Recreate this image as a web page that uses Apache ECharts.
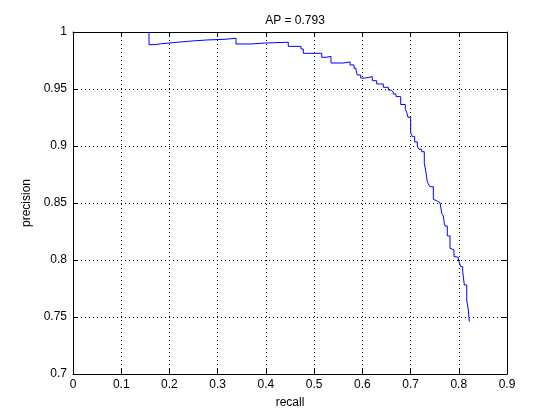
<!DOCTYPE html>
<html>
<head>
<meta charset="utf-8">
<script src="https://cdn.jsdelivr.net/npm/echarts@6/dist/echarts.min.js"></script>
<style>
html,body{margin:0;padding:0;background:#fff;}
#chart{width:560px;height:420px;}
</style>
</head>
<body>
<div id="chart"></div>
<script>
const titleText = "AP = 0.793";
const xName = "recall";
const yName = "precision";
const recall = [0.1576,0.1576,0.1701,0.1839,0.2012,0.2219,0.2462,0.2773,0.3152,0.3380,0.3691,0.4017,0.4465,0.4728,0.4776,0.5158,0.5247,0.5350,0.5606,0.5745,0.5827,0.5869,0.5896,0.5966,0.6056,0.6207,0.6298,0.6435,0.6539,0.6589,0.6642,0.6698,0.6796,0.6891,0.6920,0.6947,0.7003,0.7037,0.7086,0.7140,0.7175,0.7231,0.7285,0.7321,0.7348,0.7368,0.7404,0.7472,0.7507,0.7543,0.7611,0.7646,0.7680,0.7698,0.7715,0.7762,0.7818,0.7854,0.7901,0.7943,0.7991,0.8011,0.8040,0.8082,0.8115,0.8165,0.8198,0.8219];
const precision = [1.0,0.9889,0.9898,0.9904,0.9912,0.9921,0.9930,0.9936,0.9945,0.9895,0.9904,0.9910,0.9874,0.9851,0.9813,0.9778,0.9786,0.9728,0.9737,0.9711,0.9682,0.9661,0.9623,0.9596,0.9608,0.9573,0.9544,0.9515,0.9491,0.9474,0.9456,0.9433,0.9364,0.9322,0.9295,0.9252,0.9117,0.9082,0.9036,0.8998,0.8972,0.8950,0.8848,0.8766,0.8687,0.8667,0.8643,0.8532,0.8520,0.8503,0.8491,0.8410,0.8386,0.8327,0.8298,0.8211,0.8103,0.8088,0.8029,0.8023,0.8000,0.7980,0.7941,0.7897,0.7781,0.7649,0.7561,0.7459];

const data = recall.map((r, i) => [r, precision[i]]);
const font = "'Liberation Sans', Arial, Helvetica, sans-serif";
const dotted = {show: true, lineStyle: {color: '#000', width: 1, type: [1, 3]}};

const chart = echarts.init(document.getElementById('chart'), null, {renderer: 'canvas'});
chart.setOption({
  backgroundColor: '#fff',
  animation: false,
  title: {
    text: titleText, left: 290, top: 10, textAlign: 'center',
    textStyle: {fontFamily: font, fontSize: 12, fontWeight: 'normal', color: '#000'}
  },
  grid: {left: 73, top: 32, right: 53, bottom: 46, containLabel: false},
  xAxis: [{
    type: 'value', min: 0, max: 0.9, interval: 0.1, position: 'bottom',
    name: xName, nameLocation: 'middle', nameGap: 23,
    nameTextStyle: {fontFamily: font, fontSize: 12, color: '#000'},
    axisLine: {show: true, onZero: false, lineStyle: {color: '#000', width: 1}},
    axisTick: {show: true, inside: true, length: 5, lineStyle: {color: '#000'}},
    axisLabel: {fontFamily: font, fontSize: 12, color: '#000', margin: 5},
    splitLine: dotted
  }, {
    type: 'value', min: 0, max: 0.9, interval: 0.1, position: 'top',
    axisLine: {show: true, onZero: false, lineStyle: {color: '#000', width: 1}},
    axisTick: {show: true, inside: true, length: 5, lineStyle: {color: '#000'}},
    axisLabel: {show: false}, splitLine: {show: false}
  }],
  yAxis: [{
    type: 'value', min: 0.7, max: 1, interval: 0.05, position: 'left',
    name: yName, nameLocation: 'middle', nameGap: 39, nameRotate: 90,
    nameTextStyle: {fontFamily: font, fontSize: 12, color: '#000'},
    axisLine: {show: true, onZero: false, lineStyle: {color: '#000', width: 1}},
    axisTick: {show: true, inside: true, length: 5, lineStyle: {color: '#000'}},
    axisLabel: {fontFamily: font, fontSize: 12, color: '#000', margin: 6},
    splitLine: dotted
  }, {
    type: 'value', min: 0.7, max: 1, interval: 0.05, position: 'right',
    axisLine: {show: true, onZero: false, lineStyle: {color: '#000', width: 1}},
    axisTick: {show: true, inside: true, length: 5, lineStyle: {color: '#000'}},
    axisLabel: {show: false}, splitLine: {show: false}
  }],
  series: [{
    type: 'line', data: data, step: 'end', showSymbol: false, symbol: 'none',
    xAxisIndex: 0, yAxisIndex: 0,
    lineStyle: {color: '#0000ff', width: 1}, clip: true
  }]
});
</script>
</body>
</html>
